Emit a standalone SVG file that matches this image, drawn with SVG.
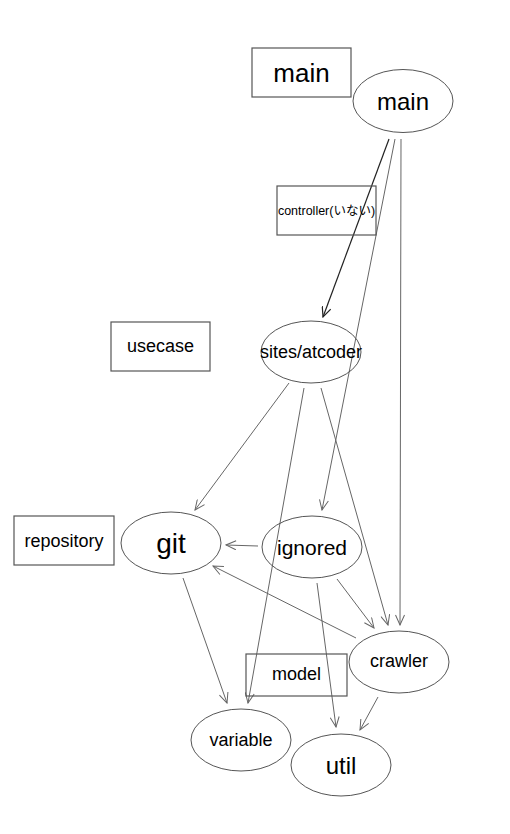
<svg xmlns="http://www.w3.org/2000/svg" width="510" height="834" viewBox="0 0 510 834">
<defs>
<style>
.box{fill:none;stroke:#555;stroke-width:1.2}
.node{fill:none;stroke:#555;stroke-width:1}
.t{font-family:"Liberation Sans",Arial,"Noto Sans CJK JP",sans-serif;fill:#000;text-anchor:middle;dominant-baseline:central}
.e{stroke:#666;stroke-width:1;fill:none;marker-end:url(#arr)}
.ed{stroke:#222;stroke-width:1.2;fill:none;marker-end:url(#arrd)}
</style>
<marker id="arr" viewBox="-11 -5 12 10" markerWidth="12" markerHeight="10" refX="0" refY="0" orient="auto" markerUnits="userSpaceOnUse"><path d="M-10,-4.5 L0,0 L-10,4.5" fill="none" stroke="#666" stroke-width="1"/></marker>
<marker id="arrd" viewBox="-11 -5 12 10" markerWidth="12" markerHeight="10" refX="0" refY="0" orient="auto" markerUnits="userSpaceOnUse"><path d="M-10,-4.5 L0,0 L-10,4.5" fill="none" stroke="#222" stroke-width="1.2"/></marker>
</defs>
<rect width="510" height="834" fill="#fff"/>
<g id="connectors">
<line class="ed" x1="389" y1="139" x2="323" y2="317"/>
<line class="e" x1="395" y1="139" x2="322" y2="510"/>
<line class="e" x1="401" y1="139" x2="400" y2="625"/>
<line class="e" x1="289" y1="383" x2="195" y2="510"/>
<line class="e" x1="304" y1="388" x2="248" y2="703"/>
<line class="e" x1="321" y1="388" x2="388" y2="625"/>
<line class="e" x1="258" y1="546" x2="226" y2="545"/>
<line class="e" x1="337" y1="579" x2="374" y2="628"/>
<line class="e" x1="317" y1="583" x2="336" y2="727"/>
<line class="e" x1="356" y1="638" x2="213" y2="566"/>
<line class="e" x1="378" y1="697" x2="360" y2="730"/>
<line class="e" x1="183" y1="578" x2="227" y2="703"/>
</g>
<g id="label-main"><rect class="box" x="252" y="48" width="99" height="49"/><text class="t" x="301.5" y="73" font-size="26">main</text></g>
<g id="node-main"><ellipse class="node" cx="403" cy="101" rx="50" ry="31.5"/><text class="t" x="403" y="101" font-size="24">main</text></g>
<g id="label-controller"><rect class="box" x="277" y="186" width="99" height="49"/><text class="t" x="326.5" y="211" font-size="12.5">controller(いない)</text></g>
<g id="label-usecase"><rect class="box" x="111" y="322" width="99" height="49"/><text class="t" x="160.5" y="346" font-size="18">usecase</text></g>
<g id="node-sites"><ellipse class="node" cx="311" cy="352" rx="50" ry="31"/><text class="t" x="311" y="352" font-size="18">sites/atcoder</text></g>
<g id="label-repository"><rect class="box" x="14" y="516" width="100" height="49"/><text class="t" x="64" y="541" font-size="18">repository</text></g>
<g id="node-git"><ellipse class="node" cx="171" cy="543" rx="50" ry="31"/><text class="t" x="171" y="543" font-size="28">git</text></g>
<g id="node-ignored"><ellipse class="node" cx="312" cy="547" rx="50" ry="31"/><text class="t" x="312" y="547" font-size="21">ignored</text></g>
<g id="node-crawler"><ellipse class="node" cx="399" cy="662" rx="50" ry="31"/><text class="t" x="399" y="661" font-size="18">crawler</text></g>
<g id="label-model"><rect class="box" x="246" y="654" width="101" height="42"/><text class="t" x="296.5" y="674" font-size="18">model</text></g>
<g id="node-variable"><ellipse class="node" cx="241" cy="740" rx="50" ry="31"/><text class="t" x="241" y="740" font-size="18">variable</text></g>
<g id="node-util"><ellipse class="node" cx="341" cy="765" rx="50" ry="31"/><text class="t" x="341" y="765" font-size="24">util</text></g>
</svg>
